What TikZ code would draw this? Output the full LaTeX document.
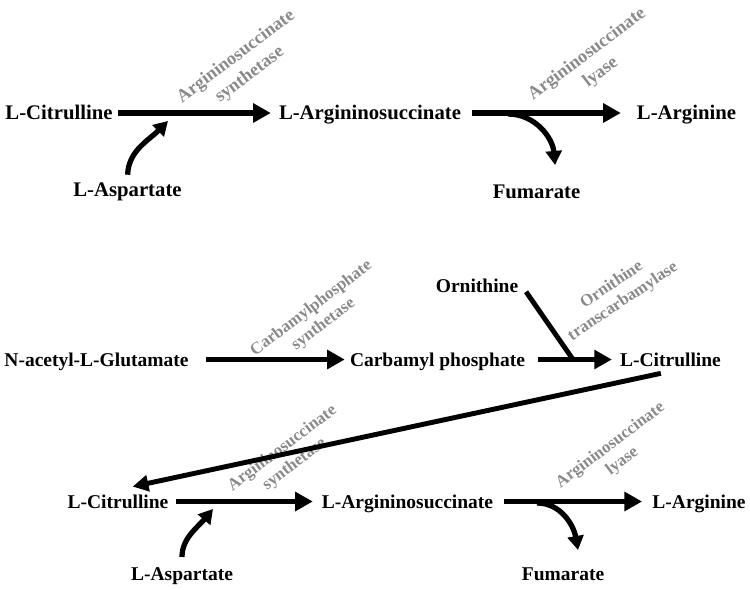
\documentclass[tikz,border=0pt]{standalone}
\usepackage{fontspec}
\setmainfont{Liberation Serif}
\usetikzlibrary{arrows.meta}
\definecolor{enzgray}{RGB}{138,138,138}

\begin{document}
\begin{tikzpicture}[x=0.02cm, y=-0.02cm,
  met/.style={font=\bfseries\fontsize{11.8}{14}\selectfont, inner sep=2pt, text height=8.3pt, text depth=0.7pt},
  metb/.style={met, font=\bfseries\fontsize{11.1}{13}\selectfont},
  enz/.style={font=\bfseries\fontsize{10.4}{12.9}\selectfont, text=enzgray, align=center, rotate=37, inner sep=0pt},
  enzb/.style={enz, font=\bfseries\fontsize{9.6}{11.4}\selectfont},
  rxn/.style={line width=3.4pt, -{Triangle[length=10pt,width=10.5pt]}},
  side/.style={line width=3pt, -{Triangle[length=8pt,width=9pt]}},
]
\useasboundingbox (0,0) rectangle (750,589);

\node[met] (Cit1) at (59,113) {L-Citrulline};
\node[met] (Asn1) at (370,113) {L-Argininosuccinate};
\node[met] (Arg1) at (686.5,113) {L-Arginine};
\node[met] (Asp1) at (127.5,190) {L-Aspartate};
\node[met] (Fum1) at (536.5,191.5) {Fumarate};
\node[enz] (E1) at (243,66) {Argininosuccinate\\synthetase};
\node[enz] (E2) at (594,63.5) {Argininosuccinate\\lyase};
\coordinate (j1) at (168,121);
\coordinate (k1) at (508,114);
\coordinate (f1) at (555,165);

\draw[rxn, shorten <=1pt, shorten >=2.5pt] (Cit1.east) -- (Asn1.west);
\draw[rxn, shorten <=4.2pt, shorten >=7pt] (Asn1.east) -- (Arg1.west);
\draw[side, shorten <=2pt] (Asp1.north) to[out=88,in=-135] (j1);
\draw[side] (k1) to[out=0,in=95] (f1);

\node[metb] (NAG) at (96.5,359.5) {N-acetyl-L-Glutamate};
\node[metb] (CP) at (437.5,359.5) {Carbamyl phosphate};
\node[metb] (Cit2) at (670.5,359.5) {L-Citrulline};
\node[metb] (Orn) at (477,286) {Ornithine};
\node[enzb] (E3) at (317.5,316.5) {Carbamylphosphate\\synthetase};
\node[enzb, rotate=-3] (E4) at (617.5,293.5) {Ornithine\\transcarbamylase};
\coordinate (o1) at (573,359.5);

\draw[rxn, shorten <=7.6pt, shorten >=0.8pt] (NAG.east) -- (CP.west);
\draw[rxn, shorten <=5.4pt, shorten >=2.5pt] (CP.east) -- (Cit2.west);
\draw[line width=2.8pt, shorten <=4pt] (Orn.east) -- (o1);

\node[metb] (Cit3) at (118,501.5) {L-Citrulline};
\node[metb] (Asn2) at (407.5,501.5) {L-Argininosuccinate};
\node[metb] (Arg2) at (699,501.5) {L-Arginine};
\node[metb] (Asp2) at (182,574) {L-Aspartate};
\node[metb] (Fum2) at (563,574) {Fumarate};
\node[enzb] (E5) at (288.5,456.5) {Argininosuccinate\\synthetase};
\node[enzb] (E6) at (616.5,453.5) {Argininosuccinate\\lyase};
\coordinate (j2) at (213,509);
\coordinate (k2) at (537,503);
\coordinate (f2) at (578,550);

\draw[line width=2.8pt, -{Triangle[length=9pt,width=9pt]}, shorten <=5.6pt, shorten >=8.5pt] (Cit2.south) -- (Cit3.north);
\draw[rxn, shorten <=2pt, shorten >=3pt] (Cit3.east) -- (Asn2.west);
\draw[rxn, shorten <=4.2pt, shorten >=3.7pt] (Asn2.east) -- (Arg2.west);
\draw[side, shorten <=3pt] (Asp2.north) to[out=90,in=-130] (j2);
\draw[side] (k2) to[out=0,in=100] (f2);
\end{tikzpicture}
\end{document}
